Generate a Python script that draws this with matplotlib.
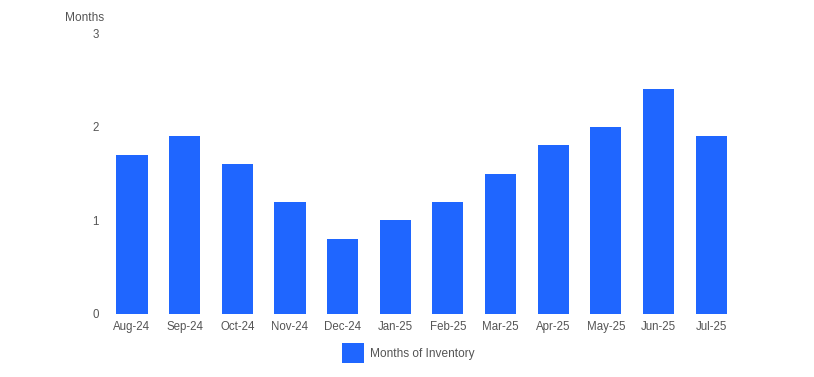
import matplotlib
matplotlib.use("Agg")
import matplotlib.pyplot as plt
from matplotlib.patches import Patch

plt.rcParams['font.family'] = ['Liberation Sans', 'DejaVu Sans']

months = ["Aug-24", "Sep-24", "Oct-24", "Nov-24", "Dec-24", "Jan-25",
          "Feb-25", "Mar-25", "Apr-25", "May-25", "Jun-25", "Jul-25"]
inventory = [1.7, 1.9, 1.6, 1.2, 0.8, 1.0, 1.2, 1.5, 1.8, 2.0, 2.4, 1.9]
yticks = [0, 1, 2, 3]
series_name = "Months of Inventory"
bar_color = "#1F66FF"
text_color = "#555555"

W, H = 814, 377
fig = plt.figure(figsize=(W / 100, H / 100), dpi=100)
left, right = 105.7 / W, 737.5 / W
bottom, top = (H - 314) / H, (H - 33) / H
ax = fig.add_axes([left, bottom, right - left, top - bottom])

x = list(range(len(months)))
ax.bar(x, inventory, width=0.59, color=bar_color)
ax.set_xlim(-0.5, len(months) - 0.5)
ax.set_ylim(0, 3)
ax.set_yticks(yticks)
ax.set_yticklabels([str(t) for t in yticks])
ax.set_xticks(x)
ax.set_xticklabels(months)
for s in ax.spines.values():
    s.set_visible(False)
ax.tick_params(axis='both', length=0, labelsize=8.3, colors=text_color)
ax.tick_params(axis='y', pad=5)
ax.tick_params(axis='x', pad=5)

fig.text(84.5 / W, (H - 18) / H, "Months", ha='center', va='center',
         fontsize=8.6, color=text_color)

handle = Patch(facecolor=bar_color, edgecolor='none')
fig.legend([handle], [series_name], loc='center', bbox_to_anchor=(408 / W, (H - 353) / H),
           frameon=False, fontsize=8.6, labelcolor=text_color,
           handlelength=1.85, handleheight=2.1, handletextpad=0.5)

fig.savefig("out.png", dpi=100)
